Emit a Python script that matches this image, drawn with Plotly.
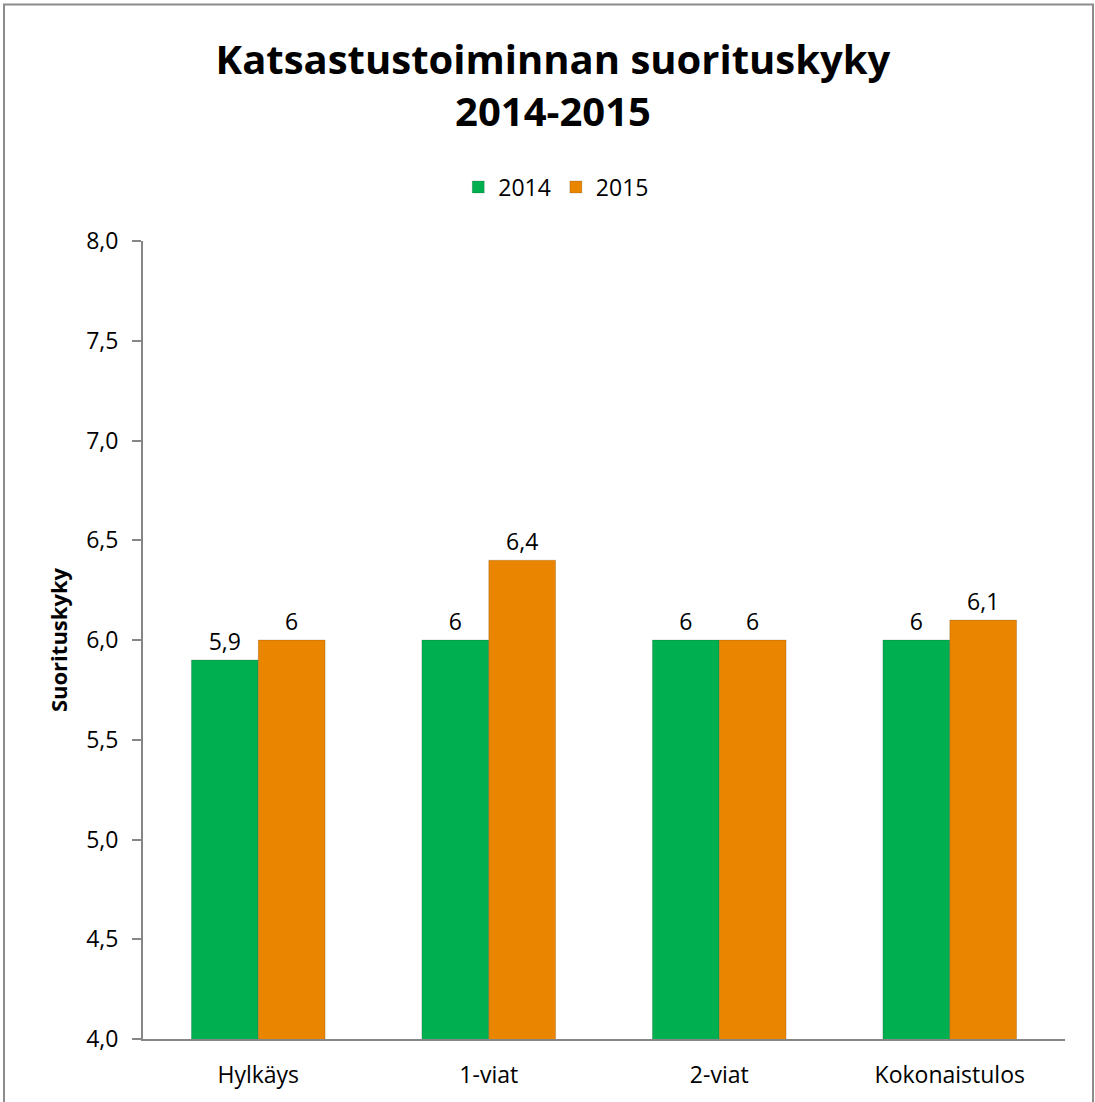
import plotly.graph_objects as go

categories = ["Hylkäys", "1-viat", "2-viat", "Kokonaistulos"]
values_2014 = [5.9, 6.0, 6.0, 6.0]
values_2015 = [6.0, 6.4, 6.0, 6.1]
series_names = ["2014", "2015"]
colors = ["#00B050", "#EA8500"]
tick_vals = [4.0, 4.5, 5.0, 5.5, 6.0, 6.5, 7.0, 7.5, 8.0]


def lab(v):
    return f"{v:g}".replace(".", ",")


fig = go.Figure()
for name, vals, col in zip(series_names, [values_2014, values_2015], colors):
    fig.add_trace(go.Bar(
        x=categories, y=vals, name=name,
        marker=dict(color=col, line=dict(color="rgba(0,0,0,0.15)", width=1)),
        text=[lab(v) for v in vals], textposition="outside",
        textfont=dict(size=23, color="black"), cliponaxis=False,
    ))

font = "Open Sans"
fig.update_layout(
    width=1095, height=1102,
    margin=dict(l=143, r=30, t=241, b=61),
    paper_bgcolor="white", plot_bgcolor="white",
    separators=",.",
    barmode="group", bargap=0.42, bargroupgap=0,
    font=dict(family=font, size=23, color="black"),
    title=dict(text="<b>Katsastustoiminnan suorituskyky<br>2014-2015</b>",
               x=0.505, xanchor="center", y=0.933, yanchor="top",
               font=dict(size=40, family=font, color="black")),
    legend=dict(orientation="h", x=0.508, xanchor="center", xref="container",
                y=1 - 187 / 1102, yanchor="middle", yref="container",
                font=dict(size=23), traceorder="normal"),
    showlegend=True,
    yaxis=dict(range=[4, 8], tickvals=tick_vals, tickformat=".1f",
               showgrid=False, showline=True, linecolor="#868686", linewidth=2,
               ticks="outside", ticklen=9, tickcolor="#868686", tickwidth=2,
               tickfont=dict(size=23), zeroline=False, ticklabelstandoff=9,
               title=dict(text="<b>Suorituskyky</b>", font=dict(size=22), standoff=12)),
    xaxis=dict(showline=True, linecolor="#868686", linewidth=2, ticks="",
               tickfont=dict(size=23), showgrid=False, ticklabelstandoff=14),
)
fig.add_shape(type="rect", xref="paper", yref="paper",
              x0=(4 - 143) / 922, x1=(1093 - 143) / 922,
              y0=-0.2, y1=(1041 - 4) / 800,
              line=dict(color="#8C8C8C", width=2), fillcolor="rgba(0,0,0,0)", layer="below")

fig.write_html("out.html", config={"displayModeBar": False},
               post_script="document.body.style.margin='0';")
